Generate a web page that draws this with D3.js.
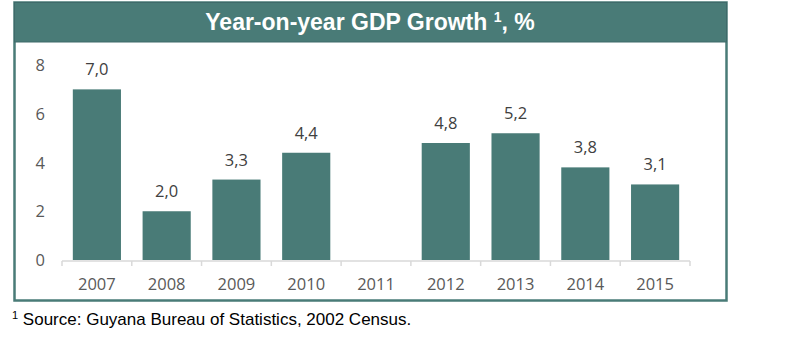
<!DOCTYPE html>
<html><head><meta charset="utf-8">
<script src="https://cdn.jsdelivr.net/npm/d3@7"></script>
<style>body{margin:0;background:#fff}</style>
</head><body>
<svg id="c" width="805" height="347"></svg>
<script>
const years = ["2007","2008","2009","2010","2011","2012","2013","2014","2015"];
const growth = [7.0, 2.0, 3.3, 4.4, null, 4.8, 5.2, 3.8, 3.1];
const yTicks = [0, 2, 4, 6, 8];
const title = "Year-on-year GDP Growth ";
const footnote = "Source: Guyana Bureau of Statistics, 2002 Census.";

const teal = "#497b77";
const svg = d3.select("#c");
// outer box
svg.append("rect").attr("x",14.5).attr("y",2.5).attr("width",712).attr("height",298)
  .attr("fill","#fff").attr("stroke",teal).attr("stroke-width",2.5);
svg.append("rect").attr("x",14.5).attr("y",2.5).attr("width",712).attr("height",39.5)
  .attr("fill",teal).attr("stroke","#3f6a6a").attr("stroke-width",1);
const t = svg.append("text").attr("x",370).attr("y",30).attr("text-anchor","middle")
  .attr("fill","#fff").attr("font-family","'Liberation Sans Narrow','Arial Narrow','Liberation Sans',sans-serif")
  .attr("font-weight","bold").attr("font-size",23);
t.append("tspan").text(title);
t.append("tspan").attr("font-size",14).attr("dy",-8).text("1");
t.append("tspan").attr("dy",8).text(", %");

const x = d3.scaleBand().domain(years).range([62,690]).paddingInner(0.31).paddingOuter(0.155);
const y = d3.scaleLinear().domain([0,8]).range([260,65]);

const g = svg.append("g");
g.selectAll("rect.bar").data(years.map((yr,i)=>({yr,v:growth[i]})).filter(d=>d.v!=null))
  .join("rect").attr("class","bar")
  .attr("x",d=>x(d.yr)).attr("width",x.bandwidth())
  .attr("y",d=>y(d.v)).attr("height",d=>y(0)-y(d.v)).attr("fill",teal);
g.selectAll("text.lbl").data(years.map((yr,i)=>({yr,v:growth[i]})).filter(d=>d.v!=null))
  .join("text").attr("class","lbl")
  .attr("x",d=>x(d.yr)+x.bandwidth()/2).attr("y",d=>y(d.v)-14)
  .attr("text-anchor","middle").attr("fill","#404040")
  .attr("font-family","'Open Sans','Noto Sans',sans-serif").attr("font-size",16.5)
  .text(d=>d.v.toFixed(1).replace(".",","));

// x axis
const ax = svg.append("g").attr("transform",`translate(0,${y(0)+1})`);
ax.append("line").attr("x1",62).attr("x2",690).attr("stroke","#d9d9d9").attr("stroke-width",1.5);
const step = x.step();
const bounds = years.map((yr,i)=>x(yr)-x.paddingInner()*step/2).concat([690]);
bounds[0]=62;
ax.selectAll("line.tk").data(bounds).join("line").attr("class","tk")
  .attr("x1",d=>d).attr("x2",d=>d).attr("y1",0).attr("y2",5).attr("stroke","#d9d9d9").attr("stroke-width",1.5);
ax.selectAll("text").data(years).join("text")
  .attr("x",d=>x(d)+x.bandwidth()/2).attr("y",29).attr("text-anchor","middle")
  .attr("fill","#595959").attr("font-family","'Open Sans','Noto Sans',sans-serif").attr("font-size",16.5)
  .text(d=>d);
// y labels
svg.append("g").selectAll("text").data(yTicks).join("text")
  .attr("x",45).attr("y",d=>y(d)+6).attr("text-anchor","end")
  .attr("fill","#595959").attr("font-family","'Open Sans','Noto Sans',sans-serif").attr("font-size",16.5)
  .text(d=>d);

const f = svg.append("text").attr("x",12).attr("y",325).attr("fill","#000")
  .attr("font-family","'Liberation Sans Narrow','Arial Narrow','Liberation Sans',sans-serif").attr("font-size",17);
f.append("tspan").attr("font-size",11).attr("dy",-6).text("1");
f.append("tspan").attr("dy",6).text(" "+footnote);
</script>
</body></html>
